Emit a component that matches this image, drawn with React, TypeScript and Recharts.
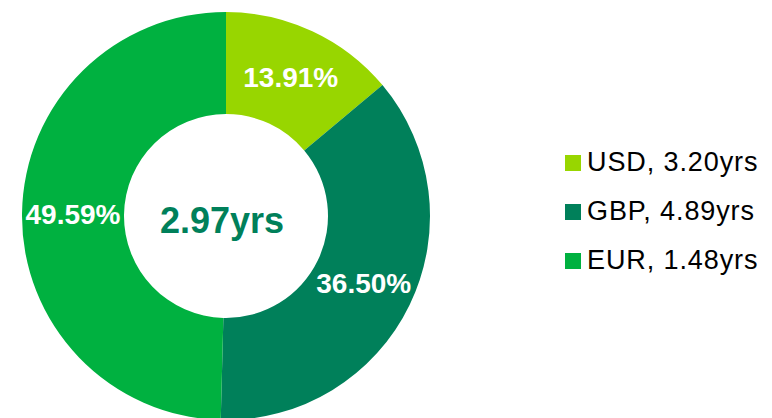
import { PieChart, Pie, Cell, Label, Legend } from 'recharts';

const currencies = ['USD', 'GBP', 'EUR'];
const shares = [13.91, 36.5, 49.59];
const durations = [3.2, 4.89, 1.48];
const averageDuration = 2.97;

const COLORS = ['#98d600', '#00805a', '#00b140'];
const FONT = '"Liberation Sans", Arial, Helvetica, sans-serif';

const data = currencies.map((name, i) => ({ name, value: shares[i], years: durations[i] }));

const RADIAN = Math.PI / 180;

function renderSliceLabel(props: any) {
  const { cx, cy, midAngle, innerRadius, outerRadius, value } = props;
  const r = (innerRadius + outerRadius) / 2;
  const x = cx + r * Math.cos(-midAngle * RADIAN);
  const y = cy + r * Math.sin(-midAngle * RADIAN);
  return (
    <text
      x={x}
      y={y}
      dy={10}
      fill="#ffffff"
      textAnchor="middle"
      fontFamily={FONT}
      fontWeight="bold"
      fontSize={28}
    >
      {value.toFixed(2)}%
    </text>
  );
}

function renderLegend() {
  return (
    <div style={{ fontFamily: FONT }}>
      {data.map((item, idx) => (
        <div
          key={item.name}
          style={{ display: 'flex', alignItems: 'center', height: 49, fontSize: 27, color: '#000' }}
        >
          <span
            style={{ width: 16, height: 16, background: COLORS[idx], display: 'inline-block', marginRight: 6 }}
          />
          <span style={{ letterSpacing: 0.9 }}>
            {item.name}, {item.years.toFixed(2)}yrs
          </span>
        </div>
      ))}
    </div>
  );
}

export default function App() {
  return (
    <div style={{ position: 'fixed', left: 0, top: 0, width: 772, height: 418, background: '#fff' }}>
      <PieChart width={772} height={418} margin={{ top: 0, right: 0, bottom: 0, left: 0 }}>
        <Pie
          data={data}
          dataKey="value"
          nameKey="name"
          cx={226}
          cy={216}
          innerRadius={102}
          outerRadius={204}
          startAngle={90}
          endAngle={-270}
          stroke="none"
          label={renderSliceLabel}
          labelLine={false}
          isAnimationActive={false}
        >
          {data.map((item, idx) => (
            <Cell key={item.name} fill={COLORS[idx]} />
          ))}
          <Label
            position="center"
            content={(p: any) => {
              const vb = p.viewBox || {};
              return (
                <text
                  x={(vb.cx ?? 226) - 4}
                  y={(vb.cy ?? 216) + 17}
                  textAnchor="middle"
                  fill="#00805a"
                  fontFamily={FONT}
                  fontWeight="bold"
                  fontSize={36}
                >
                  {averageDuration.toFixed(2)}yrs
                </text>
              );
            }}
          />
        </Pie>
        <Legend
          layout="vertical"
          align="right"
          verticalAlign="top"
          content={renderLegend}
          wrapperStyle={{ left: 565, top: 138, width: 207 }}
        />
      </PieChart>
    </div>
  );
}
